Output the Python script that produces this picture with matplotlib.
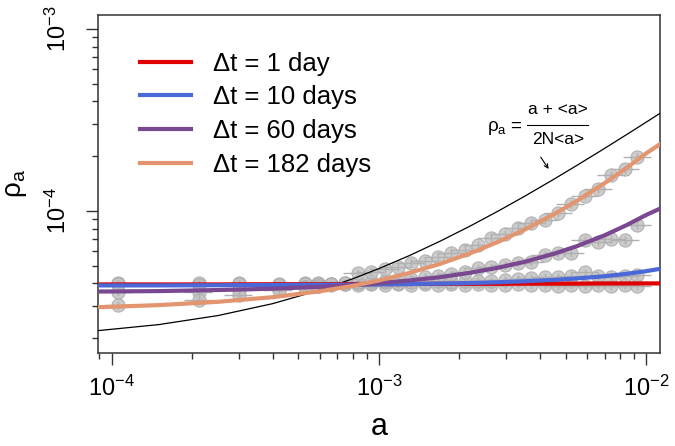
import matplotlib.pyplot as plt
import matplotlib.ticker as mticker
import numpy as np

plt.rcParams['font.family'] = ['Liberation Sans', 'DejaVu Sans']
plt.rcParams['mathtext.fontset'] = 'custom'
plt.rcParams['mathtext.rm'] = 'Liberation Sans'
plt.rcParams['mathtext.it'] = 'Liberation Sans:italic'
plt.rcParams['mathtext.sf'] = 'Liberation Sans'
plt.rcParams['mathtext.default'] = 'regular'

# legend labels / colours
labels = ['Δt = 1 day', 'Δt = 10 days', 'Δt = 60 days', 'Δt = 182 days']
colors = ['#e00000', '#4a68d8', '#7a4890', '#e3956f']

# measured points (grey circles)
a_pts = [1.06e-4, 2.12e-4, 3.0e-4, 4.24e-4, 5.3e-4, 5.94e-4, 6.62e-4, 7.48e-4,
         8.36e-4, 9.35e-4, 1.056e-3, 1.18e-3, 1.32e-3, 1.49e-3, 1.67e-3,
         1.87e-3, 2.10e-3, 2.35e-3, 2.64e-3, 2.97e-3, 3.33e-3, 3.72e-3,
         4.20e-3, 4.70e-3, 5.25e-3, 5.93e-3, 6.64e-3, 7.42e-3, 8.38e-3, 9.29e-3]
rho_1d = [4.0e-5, 4.0e-5, 4.0e-5, 3.95e-5, 4.0e-5, 4.0e-5, 3.95e-5, 3.95e-5,
          3.9e-5, 3.95e-5, 3.9e-5, 3.95e-5, 3.9e-5, 3.95e-5, 3.9e-5,
          3.95e-5, 3.9e-5, 3.95e-5, 3.9e-5, 3.9e-5, 3.95e-5, 3.9e-5,
          3.9e-5, 3.85e-5, 3.9e-5, 3.85e-5, 3.9e-5, 3.85e-5, 3.9e-5, 3.85e-5]
rho_10d = [3.95e-5, 3.9e-5, 3.95e-5, 3.9e-5, 3.95e-5, 3.95e-5, 3.95e-5, 4.0e-5,
           4.0e-5, 4.0e-5, 4.05e-5, 4.0e-5, 4.05e-5, 4.05e-5, 4.1e-5,
           4.05e-5, 4.1e-5, 4.15e-5, 4.1e-5, 4.2e-5, 4.25e-5, 4.3e-5,
           4.35e-5, 4.35e-5, 4.4e-5, 4.6e-5, 4.4e-5, 4.35e-5, 4.4e-5, 4.45e-5]
rho_60d = [3.6e-5, 3.6e-5, 3.7e-5, 3.75e-5, 3.8e-5, 3.85e-5, 3.9e-5, 3.95e-5,
           4.05e-5, 4.1e-5, 4.15e-5, 4.2e-5, 4.25e-5, 4.35e-5, 4.4e-5,
           4.49e-5, 4.64e-5, 4.84e-5, 4.9e-5, 5.05e-5, 5.18e-5, 5.25e-5,
           5.73e-5, 5.88e-5, 5.88e-5, 6.93e-5, 6.75e-5, 7.02e-5, 6.93e-5, 8.38e-5]
rho_182d = [3.05e-5, 3.24e-5, 3.45e-5, 3.68e-5, 3.8e-5, 3.85e-5, 3.95e-5, 4.0e-5,
            4.55e-5, 4.64e-5, 4.78e-5, 4.94e-5, 5.16e-5, 5.33e-5, 5.57e-5,
            5.86e-5, 6.11e-5, 6.5e-5, 7.08e-5, 7.45e-5, 8.1e-5, 8.56e-5,
            8.93e-5, 9.71e-5, 1.093e-4, 1.214e-4, 1.316e-4, 1.577e-4, 1.694e-4, 1.987e-4]
xerr_frac = 0.12
yerr_frac = 0.05

# fitted curves
a_fit = [8.86e-5, 1.5e-4, 2.5e-4, 4e-4, 6e-4, 8e-4, 1e-3, 1.3e-3, 1.7e-3,
         2.2e-3, 2.8e-3, 3.5e-3, 4.5e-3, 5.5e-3, 7e-3, 8.5e-3, 1e-2, 1.128e-2]
fit_1d = [3.95e-5, 3.95e-5, 3.95e-5, 3.96e-5, 3.96e-5, 3.97e-5, 3.97e-5, 3.97e-5, 3.98e-5,
          3.98e-5, 3.98e-5, 3.99e-5, 3.99e-5, 3.99e-5, 4.0e-5, 4.0e-5, 4.0e-5, 4.0e-5]
fit_10d = [3.9e-5, 3.9e-5, 3.91e-5, 3.92e-5, 3.93e-5, 3.94e-5, 3.95e-5, 3.97e-5, 3.99e-5,
           4.02e-5, 4.06e-5, 4.11e-5, 4.18e-5, 4.26e-5, 4.38e-5, 4.52e-5, 4.67e-5, 4.81e-5]
fit_60d = [3.61e-5, 3.63e-5, 3.68e-5, 3.74e-5, 3.83e-5, 3.91e-5, 4.01e-5, 4.15e-5, 4.33e-5,
           4.58e-5, 4.88e-5, 5.25e-5, 5.81e-5, 6.4e-5, 7.35e-5, 8.39e-5, 9.5e-5, 1.03e-4]
fit_182d = [2.96e-5, 3.04e-5, 3.17e-5, 3.36e-5, 3.62e-5, 3.88e-5, 4.15e-5, 4.57e-5, 5.13e-5,
            5.86e-5, 6.77e-5, 7.88e-5, 9.56e-5, 1.134e-4, 1.422e-4, 1.734e-4, 2.07e-4, 2.33e-4]

# null model line rho_a = (a + <a>) / (2N<a>)
rho_ref = [2.2e-5, 2.376e-5, 2.664e-5, 3.096e-5, 3.671e-5, 4.246e-5, 4.822e-5, 5.685e-5,
           6.836e-5, 8.274e-5, 1.0e-4, 1.201e-4, 1.489e-4, 1.777e-4, 2.208e-4, 2.64e-4,
           3.071e-4, 3.44e-4]

fig = plt.figure(figsize=(6.75, 4.46), dpi=100)
ax = fig.add_axes([0.1447, 0.2092, 0.8330, 0.7572])
ax.set_xscale('log')
ax.set_yscale('log')

a = np.array(a_pts)
for rho in [rho_1d, rho_10d, rho_60d, rho_182d]:
    r = np.array(rho)
    ax.plot(a, r, 'o', ms=9.5, mfc='#c4c4c4', mec='#aaaaaa', mew=0.8,
            alpha=0.85, zorder=2)
    ax.errorbar(a, r, xerr=[a * xerr_frac, a * xerr_frac],
                yerr=[r * yerr_frac, r * yerr_frac], fmt='none',
                ecolor='#b0b0b0', elinewidth=1.0, capsize=0, zorder=2.5)

ax.plot(a_fit, rho_ref, color='black', lw=0.9, zorder=3)
for fit, c, lab in zip([fit_1d, fit_10d, fit_60d, fit_182d], colors, labels):
    ax.plot(a_fit, fit, color=c, lw=3, label=lab, zorder=4)

ax.set_xlim(8.86e-5, 1.128e-2)
ax.set_ylim(1.665e-5, 1.194e-3)

for sp in ax.spines.values():
    sp.set_color('#333333')
    sp.set_linewidth(1.1)
ax.xaxis.set_major_locator(mticker.LogLocator(base=10, numticks=10))
ax.xaxis.set_minor_locator(mticker.LogLocator(base=10, subs=np.arange(2, 10), numticks=20))
ax.yaxis.set_major_locator(mticker.LogLocator(base=10, numticks=10))
ax.yaxis.set_minor_locator(mticker.LogLocator(base=10, subs=np.arange(2, 10), numticks=20))
ax.xaxis.set_minor_formatter(mticker.NullFormatter())
ax.yaxis.set_minor_formatter(mticker.NullFormatter())
ax.tick_params(which='major', direction='out', length=8.6, width=1, color='#333333',
               labelsize=17)
ax.tick_params(which='minor', direction='out', length=4.5, width=1, color='#333333')
ax.tick_params(axis='x', which='major', pad=8)
ax.tick_params(axis='y', which='major', pad=11)
for t in ax.get_yticklabels():
    t.set_rotation(90)
    t.set_va('center')

ax.set_xlabel('a', fontsize=22, labelpad=8)
ax.set_ylabel(r'$\rho_\mathrm{a}$', fontsize=20, labelpad=12)

ax.legend(loc='upper left', bbox_to_anchor=(0.035, 0.96), frameon=False,
          fontsize=18.5, handlelength=1.98, handletextpad=0.85, labelspacing=0.38)

# formula annotation built from pieces
ax.text(0.7564, 0.6645, r'$\rho_\mathrm{a}$ =', transform=ax.transAxes,
        ha='right', va='center', fontsize=13.5)
ax.text(0.8192, 0.7207, 'a + <a>', transform=ax.transAxes,
        ha='center', va='center', fontsize=12.5)
ax.plot([0.763, 0.872], [0.6743, 0.6743], transform=ax.transAxes,
        color='black', lw=0.8, clip_on=False)
ax.text(0.8183, 0.6299, '2N<a>', transform=ax.transAxes,
        ha='center', va='center', fontsize=12.5)
ax.annotate('', xy=(0.802, 0.544), xytext=(0.788, 0.579), xycoords='axes fraction',
            arrowprops=dict(arrowstyle='->', lw=0.8, color='black',
                            shrinkA=0, shrinkB=0, mutation_scale=7))

fig.savefig('out.png', dpi=100)
